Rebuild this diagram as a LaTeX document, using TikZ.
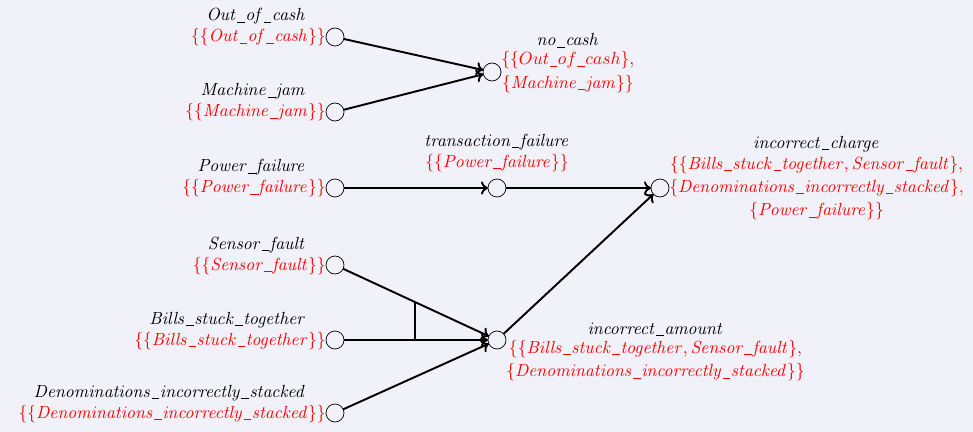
\documentclass[tikz,border=0pt]{standalone}
\usepackage{amsmath}
\usepackage{xcolor}
\usetikzlibrary{positioning}
\usetikzlibrary{calc}
\usetikzlibrary{arrows.meta}
\definecolor{paper}{RGB}{241,241,250}
\newcommand{\ev}[1]{\mathit{#1}}
\newcommand{\us}{\kern0.03em\rule[-0.2ex]{0.42em}{0.4pt}\kern0.03em}

\begin{document}
\begin{tikzpicture}[
    x=0.02cm, y=-0.02cm,
    event/.style = {circle, draw, fill=paper, minimum size=#1,
                inner sep=0pt, outer sep=0pt},
    event/.default = 0.36cm,  % diameter of the event circles
    lbl/.style = {inner sep=0pt, black, font=\fontsize{10.2}{13.3}\selectfont},
    cset/.style = {inner sep=0pt, red, align=center, font=\fontsize{10.2}{13.3}\selectfont},
    link/.style = {-{To[length=4pt,width=7.5pt]}, line width=1.1pt},
                    ]
        \fill[paper] (0,0) rectangle (973,432);
        \useasboundingbox (0,0) rectangle (973,432);
        % basic events on the left
        \foreach \y/\v/\t in {37/oc/Out\us of\us cash, 112/mj/Machine\us jam, 188/pf/Power\us failure,
                265/sf/Sensor\us fault, 340/bst/Bills\us stuck\us together,
                413/dis/Denominations\us incorrectly\us stacked}
        {
            \node[event] at (335,\y) (\v) {};
            \node[cset, anchor=base east] at (326,\y+5) (\v-set) {$\{\{\ev{\t}\}\}$};
            \node[lbl, anchor=base east] at (306,\y-16) (\v-lbl) {$\ev{\t}$};
        }
        % intermediate events
        \node[event] at (492,72) (nc) {};
        \node[cset, anchor=west] at (nc.east) (nc-set)
            {$\{\{Out\us of\us cash\},$\\$\{\ev{Machine\us jam}\}\}$};
        \node[lbl, above=2pt of nc-set] (nc-lbl) {$\ev{no\us cash}$};

        \node[event] at (497,188) (tf) {};
        \node[cset, above=4pt of tf] (tf-set) {$\{\{\ev{Power\us failure}\}\}$};
        \node[lbl, above=2pt of tf-set] (tf-lbl) {$\ev{transaction\us failure}$};

        \node[event] at (497,340) (ia) {};
        \node[cset, anchor=north west] at (ia.east) (ia-set)
            {$\{\{\ev{Bills\us stuck\us together}, \ev{Sensor\us fault}\},$\\
             $\{\ev{Denominations\us incorrectly\us stacked}\}\}$};
        \node[lbl, above=2pt of ia-set] (ia-lbl) {$\ev{incorrect\us amount}$};

        \node[event] at (660,188) (ic) {};
        \node[cset, anchor=west] at (ic.east) (ic-set)
            {$\{\{\ev{Bills\us stuck\us together}, \ev{Sensor\us fault}\},$\\
             $\{\ev{Denominations\us incorrectly\us stacked}\},$\\
             $\{\ev{Power\us failure}\}\}$};
        \node[lbl, above=2pt of ic-set] (ic-lbl) {$\ev{incorrect\us charge}$};

        \draw [link] (oc) -- (nc);
        \draw [link] (mj) -- (nc);
        \draw [link] (pf) -- (tf);
        \draw [link] (tf) -- (ic);
        \draw [link] (sf) -- (ia);
        \draw [link] (bst) -- (ia);
        \draw [link] (dis) -- (ia);
        \draw [link] (ia) -- (ic);
        % and-bar between sensor and bills
        \coordinate (andtop) at ($(sf)!0.494!(ia)$);
        \draw [line width=1.1pt] (andtop) -- (andtop |- bst);
    \end{tikzpicture}
\end{document}
